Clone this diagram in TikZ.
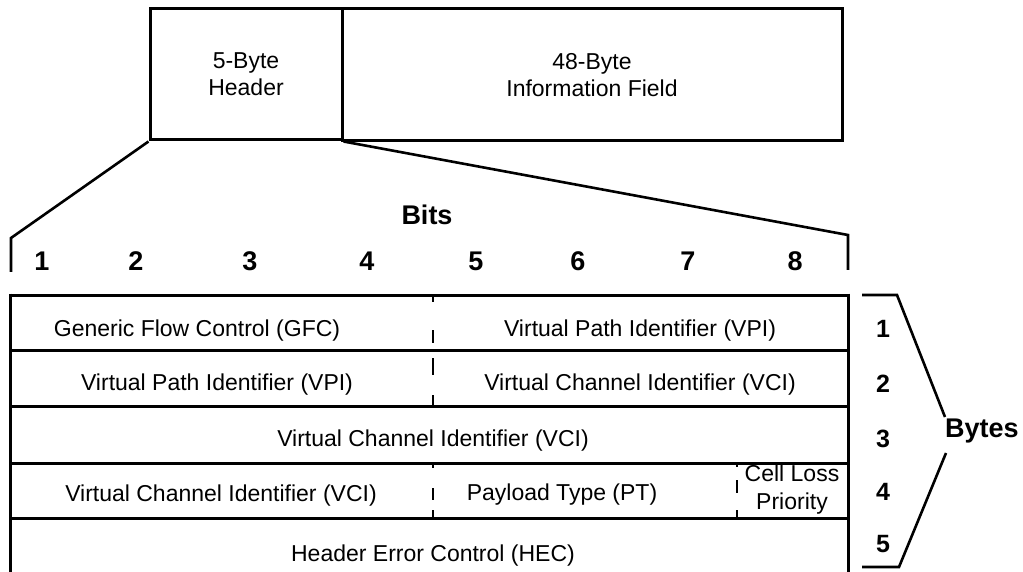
\documentclass[tikz,border=0pt]{standalone}
\usepackage{fontspec}
\setmainfont{Liberation Sans}
\begin{document}
\begin{tikzpicture}[x=1pt,y=-1pt,
  box/.style={draw, line width=3pt, inner sep=0pt, align=center, font=\fontsize{23}{27}\selectfont},
  frame/.style={line width=3pt},
  link/.style={line width=2.6pt},
  divider/.style={line width=2.2pt},
  field/.style={font=\fontsize{23}{28}\selectfont, inner sep=0pt, anchor=base},
  bitnum/.style={font=\fontsize{27}{30}\selectfont\bfseries, inner sep=0pt, anchor=base},
  bytenum/.style={font=\fontsize{25}{30}\selectfont\bfseries, inner sep=0pt, anchor=base}
]
\useasboundingbox (0,0) rectangle (1023,572);

% top cell boxes
\node[box, minimum width=192pt, minimum height=131pt] (hdr) at (246,74.5) {5-Byte\\Header};
\node[box, minimum width=500pt, minimum height=132pt] (info) at (592,75) {48-Byte\\Information Field};

% expansion lines
\coordinate (bl) at (11,238);
\coordinate (blb) at (11,272);
\coordinate (br) at (848,235);
\coordinate (brb) at (848,270);
\draw[link, line join=miter] (hdr.south west) -- (bl) -- (blb);
\draw[link, line join=miter] (hdr.south east) -- (br) -- (brb);

% bits labels
\node[bitnum] (bits) at (427,225) {Bits};
\node[bitnum] (b1) at (42,270) {1};
\node[bitnum] (b2) at (136,270) {2};
\node[bitnum] (b3) at (250,270) {3};
\node[bitnum] (b4) at (367,270) {4};
\node[bitnum] (b5) at (476,270) {5};
\node[bitnum] (b6) at (578,270) {6};
\node[bitnum] (b7) at (688,270) {7};
\node[bitnum] (b8) at (795,270) {8};

% table frame
\draw[frame] (10,295) -- (848,295);
\draw[frame] (10,350) -- (848,350);
\draw[frame] (10,406) -- (848,406);
\draw[frame] (10,463) -- (848,463);
\draw[frame] (10,518) -- (848,518);
\draw[frame] (10,293.5) -- (10,575);
\draw[frame] (848,293.5) -- (848,575);

% dashed dividers
\draw[divider, dash pattern=on 7pt off 28pt on 13pt off 15pt on 17pt off 20pt on 11pt off 0pt] (433,295) -- (433,406);
\draw[divider, dash pattern=on 5pt off 20pt on 12pt off 10pt on 8pt off 0pt] (433,463) -- (433,518);
\draw[divider, dash pattern=on 4pt off 13pt on 13pt off 17pt on 8pt off 0pt] (737,463) -- (737,518);

% field texts
\node[field] (gfc) at (197,336) {Generic Flow Control (GFC)};
\node[field] (vpi1) at (640,336) {Virtual Path Identifier (VPI)};
\node[field] (vpi2) at (217,390) {Virtual Path Identifier (VPI)};
\node[field] (vci1) at (640,390) {Virtual Channel Identifier (VCI)};
\node[field] (vci2) at (433,446) {Virtual Channel Identifier (VCI)};
\node[field] (vci3) at (221,501) {Virtual Channel Identifier (VCI)};
\node[field] (pt) at (562,500) {Payload Type (PT)};
\node[field, anchor=north, align=center] (clp) at (792,464.5) {Cell Loss\\Priority};
\node[field] (hec) at (433,561) {Header Error Control (HEC)};

% byte numbers
\node[bytenum] (y1) at (883,337) {1};
\node[bytenum] (y2) at (883,392) {2};
\node[bytenum] (y3) at (883,447) {3};
\node[bytenum] (y4) at (883,500) {4};
\node[bytenum] (y5) at (883,552) {5};
\node[bitnum, anchor=base west] (bytes) at (945,437) {Bytes};

% right bracket
\coordinate (rt0) at (862,295);
\coordinate (rt1) at (897,295);
\coordinate (rt2) at (945,417);
\coordinate (rb2) at (946,453);
\coordinate (rb1) at (899,567);
\coordinate (rb0) at (862,567);
\draw[link, line join=miter] (rt0) -- (rt1) -- (rt2);
\draw[link, line join=miter] (rb2) -- (rb1) -- (rb0);
\end{tikzpicture}
\end{document}
